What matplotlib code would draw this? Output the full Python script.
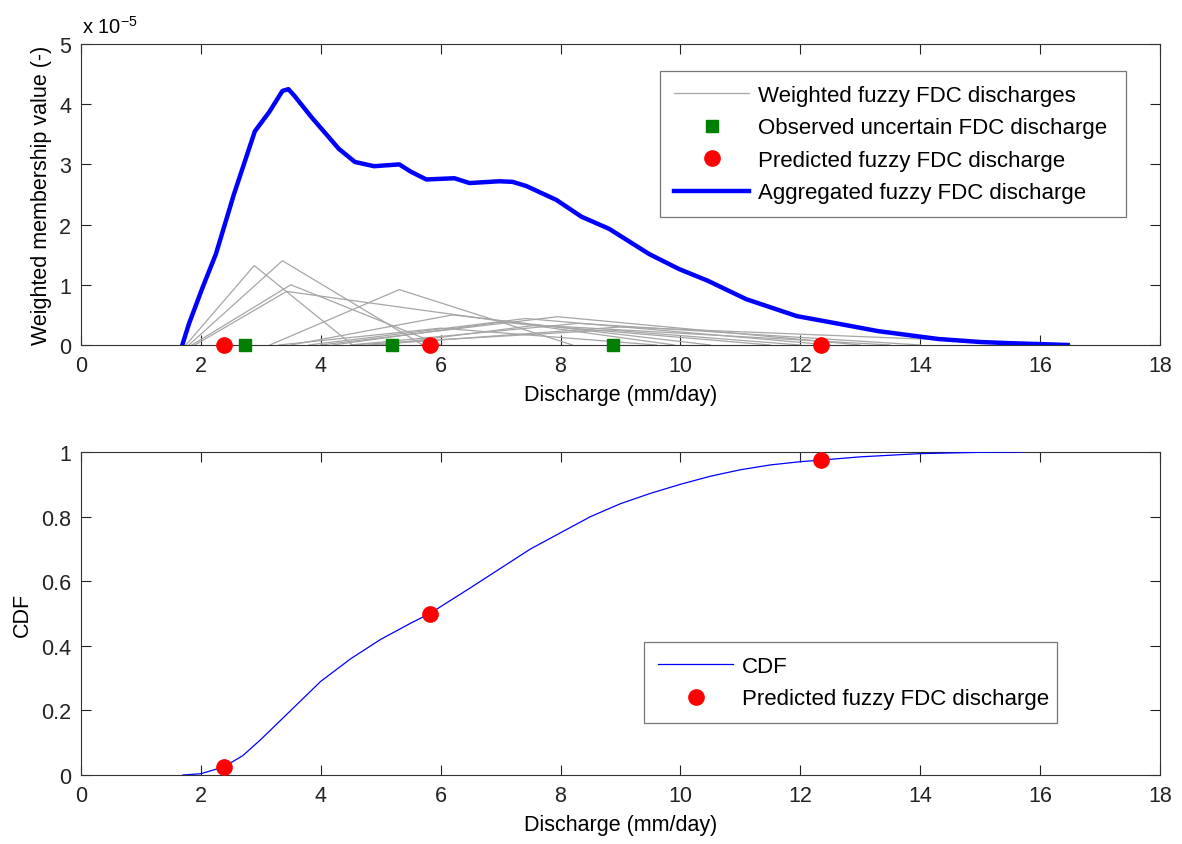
import matplotlib
matplotlib.use("Agg")
import matplotlib.pyplot as plt
import numpy as np

plt.rcParams['font.family'] = ['Liberation Sans', 'DejaVu Sans']
FS = 15.5
LFS = 16

# ---- data ----
# aggregated fuzzy FDC discharge (x in mm/day, y in 1e-5)
agg_x = [1.69, 1.80, 2.03, 2.25, 2.55, 2.90, 3.14, 3.36, 3.46, 3.56, 3.84, 4.30, 4.57,
         4.89, 5.31, 5.50, 5.76, 6.23, 6.48, 6.98, 7.20, 7.43, 7.93, 8.35, 8.81, 9.48,
         9.98, 10.45, 11.10, 11.94, 12.49, 13.30, 14.30, 15.00, 15.50, 16.00, 16.46]
agg_y = [0.00, 0.35, 0.96, 1.51, 2.50, 3.55, 3.87, 4.22, 4.25, 4.14, 3.79, 3.26, 3.04,
         2.97, 3.00, 2.88, 2.75, 2.77, 2.69, 2.72, 2.71, 2.64, 2.41, 2.13, 1.93, 1.51,
         1.26, 1.07, 0.76, 0.48, 0.38, 0.23, 0.10, 0.05, 0.03, 0.015, 0.00]

# weighted fuzzy FDC discharges: triangles (left, peak, right, height in 1e-5)
tri_left   = [1.75, 1.80, 1.85, 1.90, 3.15, 3.50, 3.80, 4.00, 4.20, 4.50, 4.80, 5.00, 3.30, 4.50]
tri_peak   = [2.89, 3.36, 3.50, 3.43, 5.31, 6.20, 7.42, 7.95, 7.00, 8.30, 9.00, 7.60, 6.00, 8.80]
tri_right  = [4.53, 5.70, 6.00, 9.90, 8.20, 10.5, 12.5, 13.0, 11.5, 14.0, 16.5, 13.5, 9.60, 12.0]
tri_height = [1.32, 1.40, 1.00, 0.89, 0.92, 0.50, 0.44, 0.47, 0.38, 0.36, 0.30, 0.33, 0.28, 0.25]

obs_x = [2.73, 5.18, 8.88]
pred_x = [2.38, 5.82, 12.35]
pred_cdf = [0.025, 0.50, 0.975]

cdf_x = [1.70, 2.00, 2.38, 2.70, 3.00, 3.50, 4.00, 4.50, 5.00, 5.50, 5.82, 6.50, 7.00,
         7.50, 8.00, 8.50, 9.00, 9.50, 10.0, 10.5, 11.0, 11.5, 12.0, 12.35, 13.0, 14.0,
         15.0, 15.7]
cdf_y = [0.000, 0.004, 0.025, 0.060, 0.110, 0.200, 0.290, 0.360, 0.420, 0.470, 0.500,
         0.580, 0.640, 0.700, 0.750, 0.800, 0.840, 0.872, 0.900, 0.925, 0.945, 0.960,
         0.970, 0.975, 0.985, 0.995, 0.999, 1.000]

xticks = [0, 2, 4, 6, 8, 10, 12, 14, 16, 18]

# ---- figure ----
W, H = 1182, 845
fig = plt.figure(figsize=(W / 100, H / 100), dpi=100)

def ax_rect(x0, y0, x1, y1):
    return [x0 / W, 1 - y1 / H, (x1 - x0) / W, (y1 - y0) / H]

AX0, AX1 = 81, 1160
ax1 = fig.add_axes(ax_rect(AX0, 45, AX1, 346))
ax2 = fig.add_axes(ax_rect(AX0, 453, AX1, 776))

def style(ax):
    ax.tick_params(direction='in', length=7, width=0.8, top=True, right=True,
                   labelsize=FS, colors='#222222', pad=7)
    for s in ax.spines.values():
        s.set_linewidth(0.8)
        s.set_color('#333333')
    ax.set_xlim(0, 18)
    ax.set_xticks(xticks)

def legend_box(ax, x0, y0, x1, y1, top_px, bot_px):
    # anchor box in axes fraction from pixel coordinates
    bx0 = (x0 - AX0) / (AX1 - AX0)
    bw = (x1 - x0) / (AX1 - AX0)
    by_top = (bot_px - y0) / (bot_px - top_px)
    by_bot = (bot_px - y1) / (bot_px - top_px)
    leg = ax.legend(loc='upper left', bbox_to_anchor=(bx0, by_bot, bw, by_top - by_bot),
                    mode='expand', fontsize=LFS, frameon=True, fancybox=False,
                    framealpha=1, edgecolor='#777777', handlelength=3.4,
                    handletextpad=0.38, labelspacing=0.52, borderpad=0.62,
                    borderaxespad=0)
    leg.get_frame().set_linewidth(0.9)
    return leg

# top panel
for i in range(len(tri_left)):
    lbl = 'Weighted fuzzy FDC discharges' if i == 0 else None
    ax1.plot([tri_left[i], tri_peak[i], tri_right[i]], [0, tri_height[i], 0],
             color='#a6a6a6', lw=0.9, label=lbl, zorder=2)
ax1.plot(obs_x, [0] * len(obs_x), 's', color='#007f00', ms=9, mec='#007f00',
         label='Observed uncertain FDC discharge', clip_on=False, zorder=5)
ax1.plot(pred_x, [0] * len(pred_x), 'o', color='#ff0000', ms=11, mec='#ff0000',
         label='Predicted fuzzy FDC discharge', clip_on=False, zorder=5)
ax1.plot(agg_x, agg_y, color='#0000ff', lw=3.2, label='Aggregated fuzzy FDC discharge',
         zorder=4, solid_joinstyle='round')
style(ax1)
ax1.set_ylim(0, 5)
ax1.set_yticks([0, 1, 2, 3, 4, 5])
ax1.set_xlabel('Discharge (mm/day)', fontsize=FS, labelpad=6)
ax1.set_ylabel('Weighted membership value (-)', fontsize=FS, labelpad=5)
fig.text(82 / W, 1 - 34 / H, r'x 10$^{\mathregular{-5}}$', fontsize=FS - 1,
         va='baseline', ha='left')
legend_box(ax1, 660, 72, 1126, 213, 45, 346)

# bottom panel
ax2.plot(cdf_x, cdf_y, color='#0000ff', lw=0.9, label='CDF', zorder=3)
ax2.plot(pred_x, pred_cdf, 'o', color='#ff0000', ms=11, mec='#ff0000',
         label='Predicted fuzzy FDC discharge', zorder=5, clip_on=False)
style(ax2)
ax2.set_ylim(0, 1)
ax2.set_yticks([0, 0.2, 0.4, 0.6, 0.8, 1])
ax2.set_yticklabels(['0', '0.2', '0.4', '0.6', '0.8', '1'])
ax2.set_xlabel('Discharge (mm/day)', fontsize=FS, labelpad=6)
ax2.set_ylabel('CDF', fontsize=FS, labelpad=6)
legend_box(ax2, 644, 643, 1057, 717, 453, 776)

fig.savefig('out.png', dpi=100, facecolor='white')
